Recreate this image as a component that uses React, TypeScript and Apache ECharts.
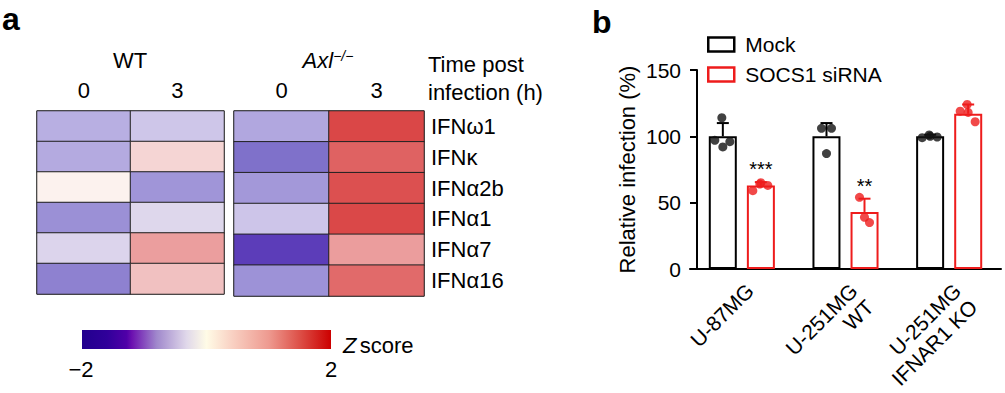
import React, { useEffect, useRef } from 'react';
import * as echarts from 'echarts';

// ---------- Panel a: heatmap data ----------
const genes = ['IFNω1', 'IFNκ', 'IFNα2b', 'IFNα1', 'IFNα7', 'IFNα16'];
const timePoints = ['0', '3'];
const wt0 = [-0.59, -0.62, 0.05, -0.78, -0.3, -0.87];
const wt3 = [-0.43, 0.39, -0.75, -0.28, 0.96, 0.61];
const axl0 = [-0.64, -0.97, -0.73, -0.44, -1.31, -0.77];
const axl3 = [1.51, 1.34, 1.45, 1.5, 0.97, 1.29];
const zMin = -2;
const zMax = 2;
const zColors = ['#2a0a98', '#4a20b0', '#7a6cc8', '#c6bee8', '#fdf6f2', '#f3cccc', '#ea9a9a', '#da4848', '#cc1010'];
const barStops: [number, string][] = [
  [0, '#22008e'], [0.1, '#30009a'], [0.18, '#5000a8'], [0.2, '#6c10b0'], [0.3, '#a088cc'],
  [0.42, '#e0d8ea'], [0.5, '#fffbe6'], [0.6, '#f9d2c4'], [0.75, '#ee9a90'], [0.88, '#dc4c44'], [1, '#cc0000'],
];

// ---------- Panel b: bar data ----------
const cellLines = ['U-87MG', 'U-251MG\nWT', 'U-251MG\nIFNAR1 KO'];
const mockMean = [100, 100, 100];
const mockSD = [10, 10, 1.2];
const socsMean = [63, 43, 117];
const socsSD = [2.5, 10, 7];
const mockPoints = [[114, 97, 92, 96], [106, 106, 87], [101, 99, 100, 99.5]];
const socsPoints = [[64, 59, 65, 63], [54, 35, 39], [124, 119, 118, 111]];
const significance = ['***', '**', ''];
const yMin = 0;
const yMax = 150;
const yInterval = 50;

const FONT = '"Liberation Sans", Arial, Helvetica, sans-serif';
const RED = '#ee1c1c';
const BAR_OFF = 19;

function jitter(n: number, i: number) {
  const p3 = [-5, 5, 0];
  const p4 = [-1, -8, 0, 7];
  return n === 3 ? p3[i] : p4[i];
}

export default function App() {
  const ref = useRef<HTMLDivElement>(null);
  useEffect(() => {
    document.body.style.margin = '0';
    const chart = echarts.init(ref.current!, undefined, { renderer: 'svg' });

    const heat = (a: number[], b: number[]) =>
      genes.flatMap((_, i) => [[0, i, a[i]], [1, i, b[i]]]);

    const errSeries = (mean: number[], sd: number[], color: string, dx: number, sig: boolean) => ({
      type: 'custom',
      xAxisIndex: 2,
      yAxisIndex: 2,
      z: 3,
      data: mean.map((m, i) => [i, m, m + sd[i]]),
      encode: { x: 0, y: [1, 2] },
      renderItem: (params: any, api: any) => {
        const c = api.coord([api.value(0), api.value(1)]);
        const t = api.coord([api.value(0), api.value(2)]);
        const x = c[0] + dx;
        const style = { stroke: color, lineWidth: 2 };
        const children: any[] = [
          { type: 'line', shape: { x1: x, y1: c[1], x2: x, y2: t[1] }, style },
          { type: 'line', shape: { x1: x - 6, y1: t[1], x2: x + 6, y2: t[1] }, style },
        ];
        if (sig && significance[params.dataIndex]) {
          children.push({
            type: 'text',
            x,
            y: t[1] - 3,
            style: {
              text: significance[params.dataIndex],
              fontSize: 20,
              fontFamily: FONT,
              fill: '#000',
              align: 'center',
              verticalAlign: 'bottom',
            },
          });
        }
        return { type: 'group', children };
      },
    });

    const dotSeries = (pts: number[][], color: string, dx: number) => ({
      type: 'scatter',
      xAxisIndex: 2,
      yAxisIndex: 2,
      z: 4,
      symbol: 'circle',
      symbolSize: 9,
      itemStyle: { color },
      data: pts.flatMap((arr, i) =>
        arr.map((v, j) => ({ value: [i, v], symbolOffset: [dx + jitter(arr.length, j), 0] }))
      ),
    });

    const txt = (text: string, x: number, y: number, size: number, align = 'left', extra: any = {}) => ({
      type: 'text', x, y,
      style: { text, fontSize: size, fontFamily: FONT, fill: '#000', align, verticalAlign: 'middle', ...extra },
    });

    const option: any = {
      animation: false,
      textStyle: { fontFamily: FONT },
      grid: [
        { left: 37, top: 111, width: 187, height: 183, show: true, borderColor: '#777', borderWidth: 1 },
        { left: 234, top: 111, width: 190, height: 185, show: true, borderColor: '#777', borderWidth: 1 },
        { left: 690, top: 70, width: 311, height: 199 },
      ],
      xAxis: [
        {
          gridIndex: 0, type: 'category', data: timePoints, position: 'top',
          axisLine: { show: false }, axisTick: { show: false },
          axisLabel: { fontSize: 22, color: '#000', margin: 10 },
        },
        {
          gridIndex: 1, type: 'category', data: timePoints, position: 'top',
          axisLine: { show: false }, axisTick: { show: false },
          axisLabel: { fontSize: 22, color: '#000', margin: 10 },
        },
        {
          gridIndex: 2, type: 'category', data: cellLines,
          axisLine: { lineStyle: { color: '#000', width: 2 } },
          axisTick: { alignWithLabel: true, length: 6, lineStyle: { color: '#000', width: 2 } },
          axisLabel: {
            rotate: 45, fontSize: 21, color: '#000', margin: 10, interval: 0, lineHeight: 23,
            verticalAlign: 'top',
          },
        },
      ],
      yAxis: [
        { gridIndex: 0, type: 'category', data: genes, inverse: true, show: false },
        {
          gridIndex: 1, type: 'category', data: genes, inverse: true, position: 'right',
          axisLine: { show: false }, axisTick: { show: false },
          axisLabel: { fontSize: 22, color: '#000', margin: 7 },
        },
        {
          gridIndex: 2, type: 'value', min: yMin, max: yMax, interval: yInterval, offset: -7,
          axisLine: { show: true, lineStyle: { color: '#000', width: 2 } },
          axisTick: { show: true, length: 7, lineStyle: { color: '#000', width: 2 } },
          axisLabel: { fontSize: 21, color: '#000', margin: 16 },
          splitLine: { show: false },
          name: 'Relative infection (%)', nameLocation: 'middle', nameGap: 59,
          nameTextStyle: { fontSize: 22, color: '#000' },
        },
      ],
      visualMap: {
        type: 'continuous', show: false, min: zMin, max: zMax, seriesIndex: [0, 1],
        inRange: { color: zColors },
      },
      legend: {
        left: 707, top: 34, padding: 0, orient: 'vertical', itemWidth: 26, itemHeight: 14, itemGap: 9,
        selectedMode: false, icon: 'rect',
        formatter: (name: string) => `{t|${name}}`,
        textStyle: {
          fontSize: 21, color: '#000',
          rich: { t: { fontSize: 21, fontFamily: FONT, color: '#000', padding: [0, 0, 0, 6] } },
        },
        data: [
          { name: 'Mock', itemStyle: { color: '#fff', borderColor: '#000', borderWidth: 2.5 } },
          { name: 'SOCS1 siRNA', itemStyle: { color: '#fff', borderColor: RED, borderWidth: 2.5 } },
        ],
      },
      series: [
        {
          type: 'heatmap', xAxisIndex: 0, yAxisIndex: 0, data: heat(wt0, wt3),
          itemStyle: { borderColor: '#222', borderWidth: 1 },
        },
        {
          type: 'heatmap', xAxisIndex: 1, yAxisIndex: 1, data: heat(axl0, axl3),
          itemStyle: { borderColor: '#222', borderWidth: 1 },
        },
        {
          name: 'Mock', type: 'bar', xAxisIndex: 2, yAxisIndex: 2, data: mockMean,
          barWidth: 28, barGap: '36%', z: 2,
          itemStyle: { color: '#fff', borderColor: '#000', borderWidth: 2 },
        },
        {
          name: 'SOCS1 siRNA', type: 'bar', xAxisIndex: 2, yAxisIndex: 2, data: socsMean,
          barWidth: 28, barGap: '36%', z: 2,
          itemStyle: { color: '#fff', borderColor: RED, borderWidth: 2 },
        },
        errSeries(mockMean, mockSD, '#000', -BAR_OFF, false),
        errSeries(socsMean, socsSD, RED, BAR_OFF, true),
        dotSeries(mockPoints, '#111', -BAR_OFF),
        dotSeries(socsPoints, RED, BAR_OFF),
      ],
      graphic: [
        txt('a', 2, 19, 32, 'left', { fontWeight: 'bold' }),
        txt('b', 592, 22, 32, 'left', { fontWeight: 'bold' }),
        txt('WT', 130, 60, 22, 'center'),
        {
          type: 'text', x: 328, y: 60,
          style: {
            text: '{a|Axl}{s|−/−}', align: 'center', verticalAlign: 'middle', fill: '#000',
            rich: {
              a: { fontSize: 22, fontStyle: 'italic', fontFamily: FONT, fill: '#000' },
              s: { fontSize: 14, fontStyle: 'italic', fontFamily: FONT, fill: '#000', verticalAlign: 'top' },
            },
          },
        },
        txt('Time post', 428, 64, 22),
        txt('infection (h)', 428, 92, 22),
        {
          type: 'rect', shape: { x: 82, y: 330, width: 249, height: 19 },
          style: {
            fill: new echarts.graphic.LinearGradient(0, 0, 1, 0, barStops.map(([offset, color]) => ({ offset, color }))),
          },
        },
        txt('−' + String(-zMin), 81, 369, 22, 'center'),
        txt(String(zMax), 331, 369, 22, 'center'),
        {
          type: 'text', x: 343, y: 345,
          style: {
            text: '{z|Z} {s|score}', verticalAlign: 'middle', fill: '#000',
            rich: {
              z: { fontSize: 22, fontStyle: 'italic', fontFamily: FONT, fill: '#000' },
              s: { fontSize: 22, fontFamily: FONT, fill: '#000' },
            },
          },
        },
      ],
    };
    chart.setOption(option);
    return () => chart.dispose();
  }, []);
  return <div ref={ref} style={{ position: 'absolute', left: 0, top: 0, width: 1005, height: 393 }} />;
}
